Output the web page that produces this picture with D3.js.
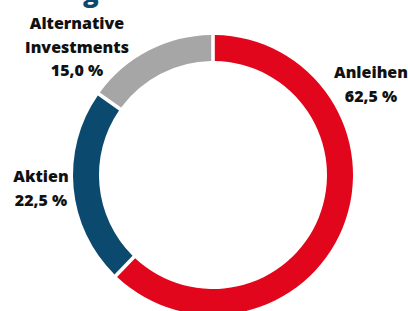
<!DOCTYPE html>
<html>
<head>
<meta charset="utf-8">
<script src="https://cdn.jsdelivr.net/npm/d3@7"></script>
<style>
  html, body { margin: 0; padding: 0; background: #fff; }
  svg { display: block; }
  text { font-family: "Open Sans", sans-serif; font-weight: 800; fill: #111; }
</style>
</head>
<body>
<div id="chart"></div>
<script>
const categories = ["Anleihen", "Aktien", "Alternative Investments"];
const shares = [62.5, 22.5, 15.0];
const shareLabels = ["62,5 %", "22,5 %", "15,0 %"];
const colors = ["#e2061c", "#0b4a6e", "#a6a6a6"];

const width = 408, height = 311;
const cx = 213, cy = 175;
const outerR = 140, innerR = 114;

const svg = d3.select("#chart").append("svg")
    .attr("width", width)
    .attr("height", height);

// cut-off title, only the descender of the "g" shows
svg.append("text")
    .attr("x", 83)
    .attr("y", 2)
    .style("font-size", "26px")
    .style("fill", "#0b4a6e")
    .text("g");

const pie = d3.pie().sort(null).value(d => d).padAngle(0.02);
const arc = d3.arc().innerRadius(innerR).outerRadius(outerR);

const g = svg.append("g").attr("transform", `translate(${cx},${cy})`);

g.selectAll("path")
    .data(pie(shares))
    .join("path")
        .attr("d", arc)
        .attr("fill", (d, i) => colors[i]);

// label blocks: lines and their anchor point
const labels = [
    { lines: [categories[0], shareLabels[0]], x: 371, y: 78 },
    { lines: [categories[1], shareLabels[1]], x: 41, y: 182 },
    { lines: ["Alternative", "Investments", shareLabels[2]], x: 77, y: 29 }
];

labels.forEach(l => {
    const t = svg.append("text")
        .attr("text-anchor", "middle")
        .style("font-size", "16px");
    l.lines.forEach((line, i) => {
        t.append("tspan")
            .attr("x", l.x)
            .attr("y", l.y + i * 23.5)
            .text(line);
    });
});
</script>
</body>
</html>
